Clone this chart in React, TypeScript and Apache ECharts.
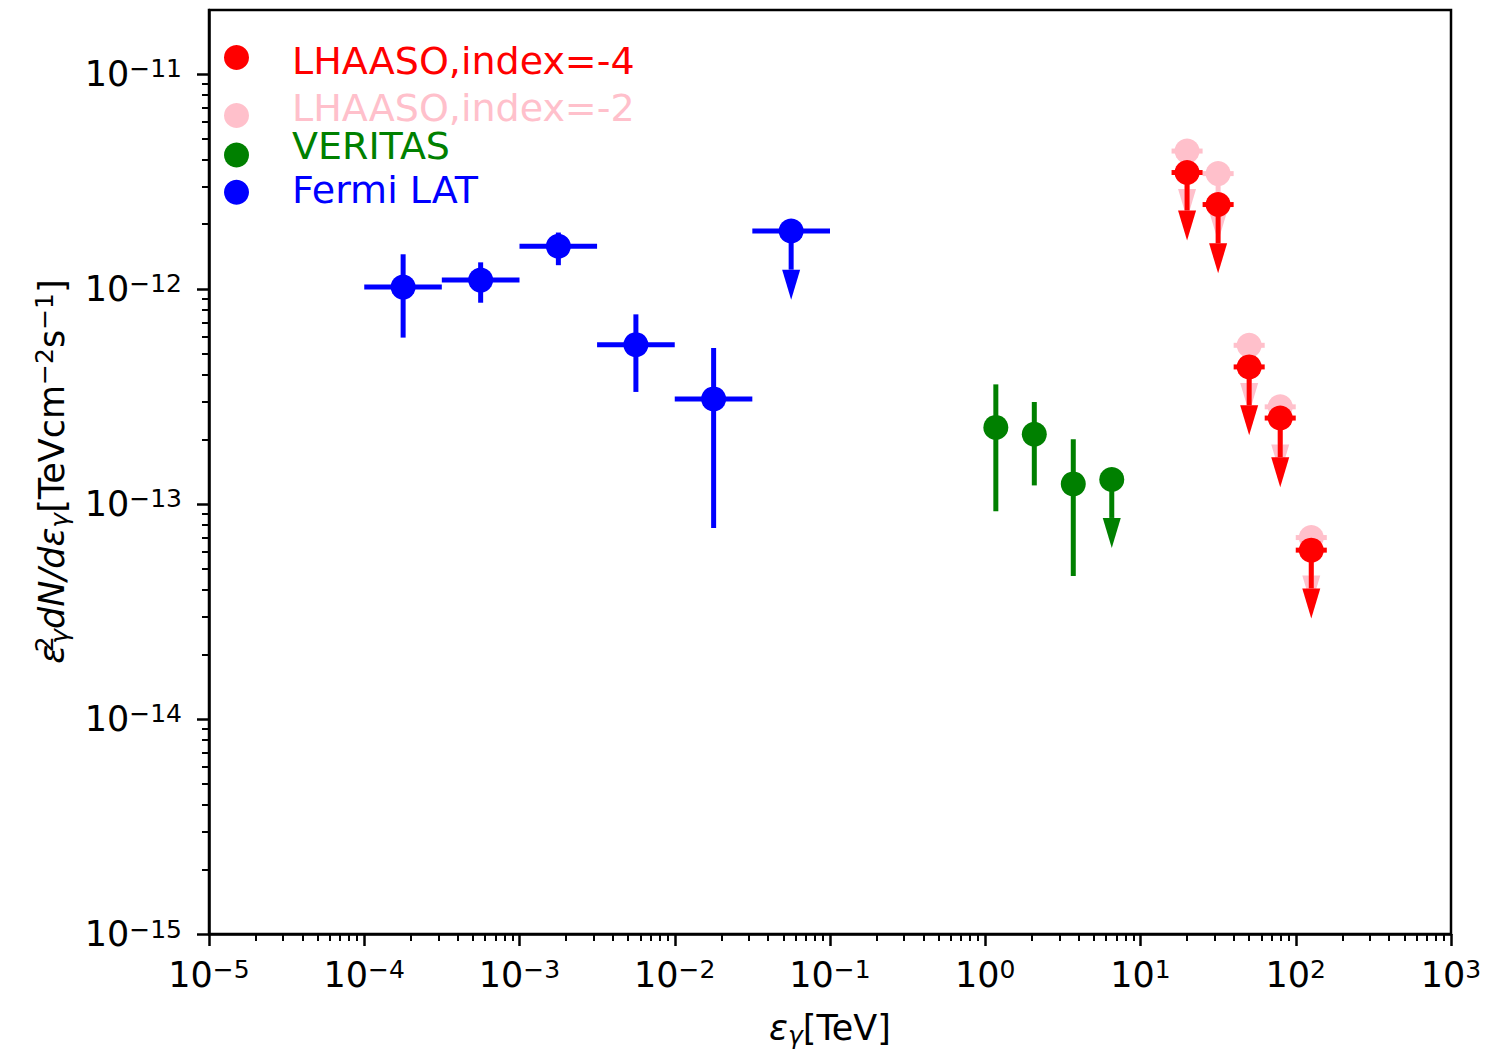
import React, { useEffect, useRef } from "react";
import * as echarts from "echarts";

const FONT = "DejaVu Sans";

// ---- Fermi LAT (blue) ----
const fermiX = [1.78e-4, 5.62e-4, 1.78e-3, 5.62e-3, 1.78e-2];
const fermiXLo = [1.0e-4, 3.16e-4, 1.0e-3, 3.16e-3, 1.0e-2];
const fermiXHi = [3.16e-4, 1.0e-3, 3.16e-3, 1.0e-2, 3.16e-2];
const fermiY = [1.02e-12, 1.1e-12, 1.58e-12, 5.51e-13, 3.08e-13];
const fermiYLo = [5.94e-13, 8.63e-13, 1.29e-12, 3.32e-13, 7.73e-14];
const fermiYHi = [1.45e-12, 1.33e-12, 1.83e-12, 7.62e-13, 5.31e-13];
const fermiUlX = [5.62e-2];
const fermiUlXLo = [3.16e-2];
const fermiUlXHi = [1.0e-1];
const fermiUlY = [1.86e-12];
const fermiUlEnd = [1.23e-12];

// ---- VERITAS (green) ----
const veritasX = [1.17, 2.07, 3.69];
const veritasY = [2.27e-13, 2.11e-13, 1.24e-13];
const veritasYLo = [9.25e-14, 1.22e-13, 4.62e-14];
const veritasYHi = [3.6e-13, 2.98e-13, 2.0e-13];
const veritasUlX = [6.53];
const veritasUlY = [1.3e-13];
const veritasUlEnd = [8.61e-14];

// ---- LHAASO (upper limits) ----
const lhaasoX = [19.95, 31.62, 50.12, 79.43, 125.9];
const lhaasoXLo = [15.85, 25.12, 39.81, 63.1, 100];
const lhaasoXHi = [25.12, 39.81, 63.1, 100, 158.5];
const lhaaso4Y = [3.48e-12, 2.47e-12, 4.34e-13, 2.51e-13, 6.1e-14];
const lhaaso4End = [2.32e-12, 1.63e-12, 2.88e-13, 1.65e-13, 4.05e-14];
const lhaaso2Y = [4.38e-12, 3.44e-12, 5.47e-13, 2.83e-13, 6.98e-14];
const lhaaso2End = [2.92e-12, 2.29e-12, 3.65e-13, 1.89e-13, 4.65e-14];

// ---- axes (log10 exponents) ----
const xMajor = [-5, -4, -3, -2, -1, 0, 1, 2, 3];
const yMajor = [-15, -14, -13, -12, -11];
const X_MIN = -5;
const X_MAX = 3;
const Y_MIN = -15;
const Y_MAX = -10.7025;

const legendNames = ["LHAASO,index=-4", "LHAASO,index=-2", "VERITAS", "Fermi LAT"];
const legendColors = ["#ff0000", "#ffc0cb", "#008000", "#0000ff"];

const L = (v: number) => Math.log10(v);

function minorTicks(from: number, to: number, max: number) {
  const out: number[] = [];
  for (let n = from; n <= to; n++) {
    for (let k = 2; k <= 9; k++) {
      const v = n + Math.log10(k);
      if (v < max) out.push(v);
    }
  }
  return out;
}

const LW = 5;

function hbarSeries(lo: number[], hi: number[], y: number[], color: string) {
  return {
    type: "custom",
    silent: true,
    xAxisIndex: 0,
    yAxisIndex: 0,
    data: y.map((v, i) => [L(lo[i]), L(hi[i]), L(v)]),
    encode: { x: [0, 1], y: 2 },
    renderItem: (_p: any, api: any) => {
      const a = api.coord([api.value(0), api.value(2)]);
      const b = api.coord([api.value(1), api.value(2)]);
      return {
        type: "line",
        shape: { x1: a[0], y1: a[1], x2: b[0], y2: b[1] },
        style: { stroke: color, lineWidth: LW },
      };
    },
  };
}

function vbarSeries(x: number[], lo: number[], hi: number[], color: string) {
  return {
    type: "custom",
    silent: true,
    xAxisIndex: 0,
    yAxisIndex: 0,
    data: x.map((v, i) => [L(v), L(lo[i]), L(hi[i])]),
    encode: { x: 0, y: [1, 2] },
    renderItem: (_p: any, api: any) => {
      const a = api.coord([api.value(0), api.value(1)]);
      const b = api.coord([api.value(0), api.value(2)]);
      return {
        type: "line",
        shape: { x1: a[0], y1: a[1], x2: b[0], y2: b[1] },
        style: { stroke: color, lineWidth: LW },
      };
    },
  };
}

function arrowSeries(x: number[], y: number[], end: number[], color: string) {
  return {
    type: "custom",
    silent: true,
    xAxisIndex: 0,
    yAxisIndex: 0,
    data: x.map((v, i) => [L(v), L(y[i]), L(end[i])]),
    encode: { x: 0, y: [1, 2] },
    renderItem: (_p: any, api: any) => {
      const a = api.coord([api.value(0), api.value(1)]);
      const b = api.coord([api.value(0), api.value(2)]);
      return {
        type: "group",
        children: [
          {
            type: "line",
            shape: { x1: a[0], y1: a[1], x2: b[0], y2: b[1] },
            style: { stroke: color, lineWidth: LW },
          },
          {
            type: "polygon",
            shape: {
              points: [
                [b[0] - 9, b[1]],
                [b[0] + 9, b[1]],
                [b[0], b[1] + 30],
              ],
            },
            style: { fill: color },
          },
        ],
      };
    },
  };
}

function scatterSeries(x: number[], y: number[], color: string) {
  return {
    type: "scatter",
    silent: true,
    xAxisIndex: 0,
    yAxisIndex: 0,
    symbol: "circle",
    symbolSize: 25,
    itemStyle: { color, opacity: 1 },
    data: x.map((v, i) => [L(v), L(y[i])]),
  };
}

const tickRich = {
  b: { fontFamily: FONT, fontSize: 35, lineHeight: 35, color: "#000" },
  s: { fontFamily: FONT, fontSize: 25, lineHeight: 19, verticalAlign: "top", color: "#000" },
};

const tickFormatter = (v: number) => {
  const n = Math.round(v);
  return `{b|10}{s|${n < 0 ? "\u2212" : ""}${Math.abs(n)}}`;
};

const labelRich = {
  it: { fontFamily: FONT, fontStyle: "italic", fontSize: 35, lineHeight: 40, color: "#000" },
  rm: { fontFamily: FONT, fontSize: 35, lineHeight: 40, color: "#000" },
  sub: { fontFamily: FONT, fontStyle: "italic", fontSize: 25, lineHeight: 30, verticalAlign: "bottom", color: "#000" },
  sup: { fontFamily: FONT, fontSize: 25, lineHeight: 24, verticalAlign: "top", color: "#000" },
  supw: { fontFamily: FONT, fontSize: 25, lineHeight: 24, verticalAlign: "top", width: 1, color: "#000" },
};

const legendY = [57.5, 115.5, 155, 192.3];
const legendTextY = [60.5, 108, 146, 190];

export default function App() {
  const ref = useRef<HTMLDivElement>(null);

  useEffect(() => {
    if (!ref.current) return;
    const chart = echarts.init(ref.current, null, { renderer: "svg" });

    const graphics: any[] = [];
    legendNames.forEach((name, i) => {
      graphics.push({
        type: "circle",
        silent: true,
        shape: { cx: 236.5, cy: legendY[i], r: 12.5 },
        style: { fill: legendColors[i] },
      });
      graphics.push({
        type: "text",
        silent: true,
        x: 292,
        y: legendTextY[i],
        style: {
          text: name,
          fill: legendColors[i],
          fontFamily: FONT,
          fontSize: 38,
          align: "left",
          verticalAlign: "middle",
        },
      });
    });
    graphics.push({
      type: "text",
      silent: true,
      x: 830,
      y: 1028,
      style: {
        text: "{it|\u03b5}{sub|\u03b3}{rm|[TeV]}",
        rich: labelRich,
        align: "center",
        verticalAlign: "middle",
      },
    });
    graphics.push({
      type: "text",
      silent: true,
      x: 52,
      y: 471.5,
      rotation: Math.PI / 2,
      style: {
        text:
          "{it|\u03b5}{supw|2}{sub|\u03b3}{it|dN/d\u03b5}{sub|\u03b3}{rm|[TeVcm}{sup|\u22122}{rm|s}{sup|\u22121}{rm|]}",
        rich: labelRich,
        align: "center",
        verticalAlign: "middle",
      },
    });

    const option: any = {
      animation: false,
      backgroundColor: "#ffffff",
      grid: {
        left: 209,
        top: 10,
        width: 1242,
        height: 924,
        show: true,
        borderColor: "#000",
        borderWidth: 2.5,
        backgroundColor: "transparent",
        containLabel: false,
        outerBoundsMode: "none",
      },
      xAxis: [
        {
          type: "value",
          min: X_MIN,
          max: X_MAX,
          position: "bottom",
          axisLine: { show: true, onZero: false, lineStyle: { color: "#000", width: 2.5 } },
          axisTick: { show: true, inside: false, length: 12, customValues: xMajor, lineStyle: { color: "#000", width: 2.5 } },
          axisLabel: { show: true, customValues: xMajor, margin: 23, formatter: tickFormatter, rich: tickRich },
          splitLine: { show: false },
        },
        {
          type: "value",
          min: X_MIN,
          max: X_MAX,
          position: "bottom",
          axisLine: { show: false, onZero: false },
          axisTick: { show: true, inside: false, length: 7, customValues: minorTicks(-5, 2, X_MAX), lineStyle: { color: "#000", width: 2 } },
          axisLabel: { show: false },
          splitLine: { show: false },
        },
      ],
      yAxis: [
        {
          type: "value",
          min: Y_MIN,
          max: Y_MAX,
          position: "left",
          axisLine: { show: true, onZero: false, lineStyle: { color: "#000", width: 2.5 } },
          axisTick: { show: true, inside: false, length: 12, customValues: yMajor, lineStyle: { color: "#000", width: 2.5 } },
          axisLabel: { show: true, customValues: yMajor, margin: 27, formatter: tickFormatter, rich: tickRich },
          splitLine: { show: false },
        },
        {
          type: "value",
          min: Y_MIN,
          max: Y_MAX,
          position: "left",
          axisLine: { show: false, onZero: false },
          axisTick: { show: true, inside: false, length: 7, customValues: minorTicks(-15, -11, Y_MAX), lineStyle: { color: "#000", width: 2 } },
          axisLabel: { show: false },
          splitLine: { show: false },
        },
      ],
      graphic: graphics,
      series: [
        // LHAASO index=-2 (pink) underneath
        hbarSeries(lhaasoXLo, lhaasoXHi, lhaaso2Y, legendColors[1]),
        arrowSeries(lhaasoX, lhaaso2Y, lhaaso2End, legendColors[1]),
        scatterSeries(lhaasoX, lhaaso2Y, legendColors[1]),
        // LHAASO index=-4 (red)
        hbarSeries(lhaasoXLo, lhaasoXHi, lhaaso4Y, legendColors[0]),
        arrowSeries(lhaasoX, lhaaso4Y, lhaaso4End, legendColors[0]),
        scatterSeries(lhaasoX, lhaaso4Y, legendColors[0]),
        // VERITAS
        vbarSeries(veritasX, veritasYLo, veritasYHi, legendColors[2]),
        arrowSeries(veritasUlX, veritasUlY, veritasUlEnd, legendColors[2]),
        scatterSeries(veritasX, veritasY, legendColors[2]),
        scatterSeries(veritasUlX, veritasUlY, legendColors[2]),
        // Fermi LAT
        hbarSeries(fermiXLo, fermiXHi, fermiY, legendColors[3]),
        vbarSeries(fermiX, fermiYLo, fermiYHi, legendColors[3]),
        hbarSeries(fermiUlXLo, fermiUlXHi, fermiUlY, legendColors[3]),
        arrowSeries(fermiUlX, fermiUlY, fermiUlEnd, legendColors[3]),
        scatterSeries(fermiX, fermiY, legendColors[3]),
        scatterSeries(fermiUlX, fermiUlY, legendColors[3]),
      ],
    };

    chart.setOption(option);
    return () => chart.dispose();
  }, []);

  return (
    <div
      ref={ref}
      style={{ position: "absolute", left: 0, top: 0, width: 1488, height: 1052, background: "#fff" }}
    />
  );
}
